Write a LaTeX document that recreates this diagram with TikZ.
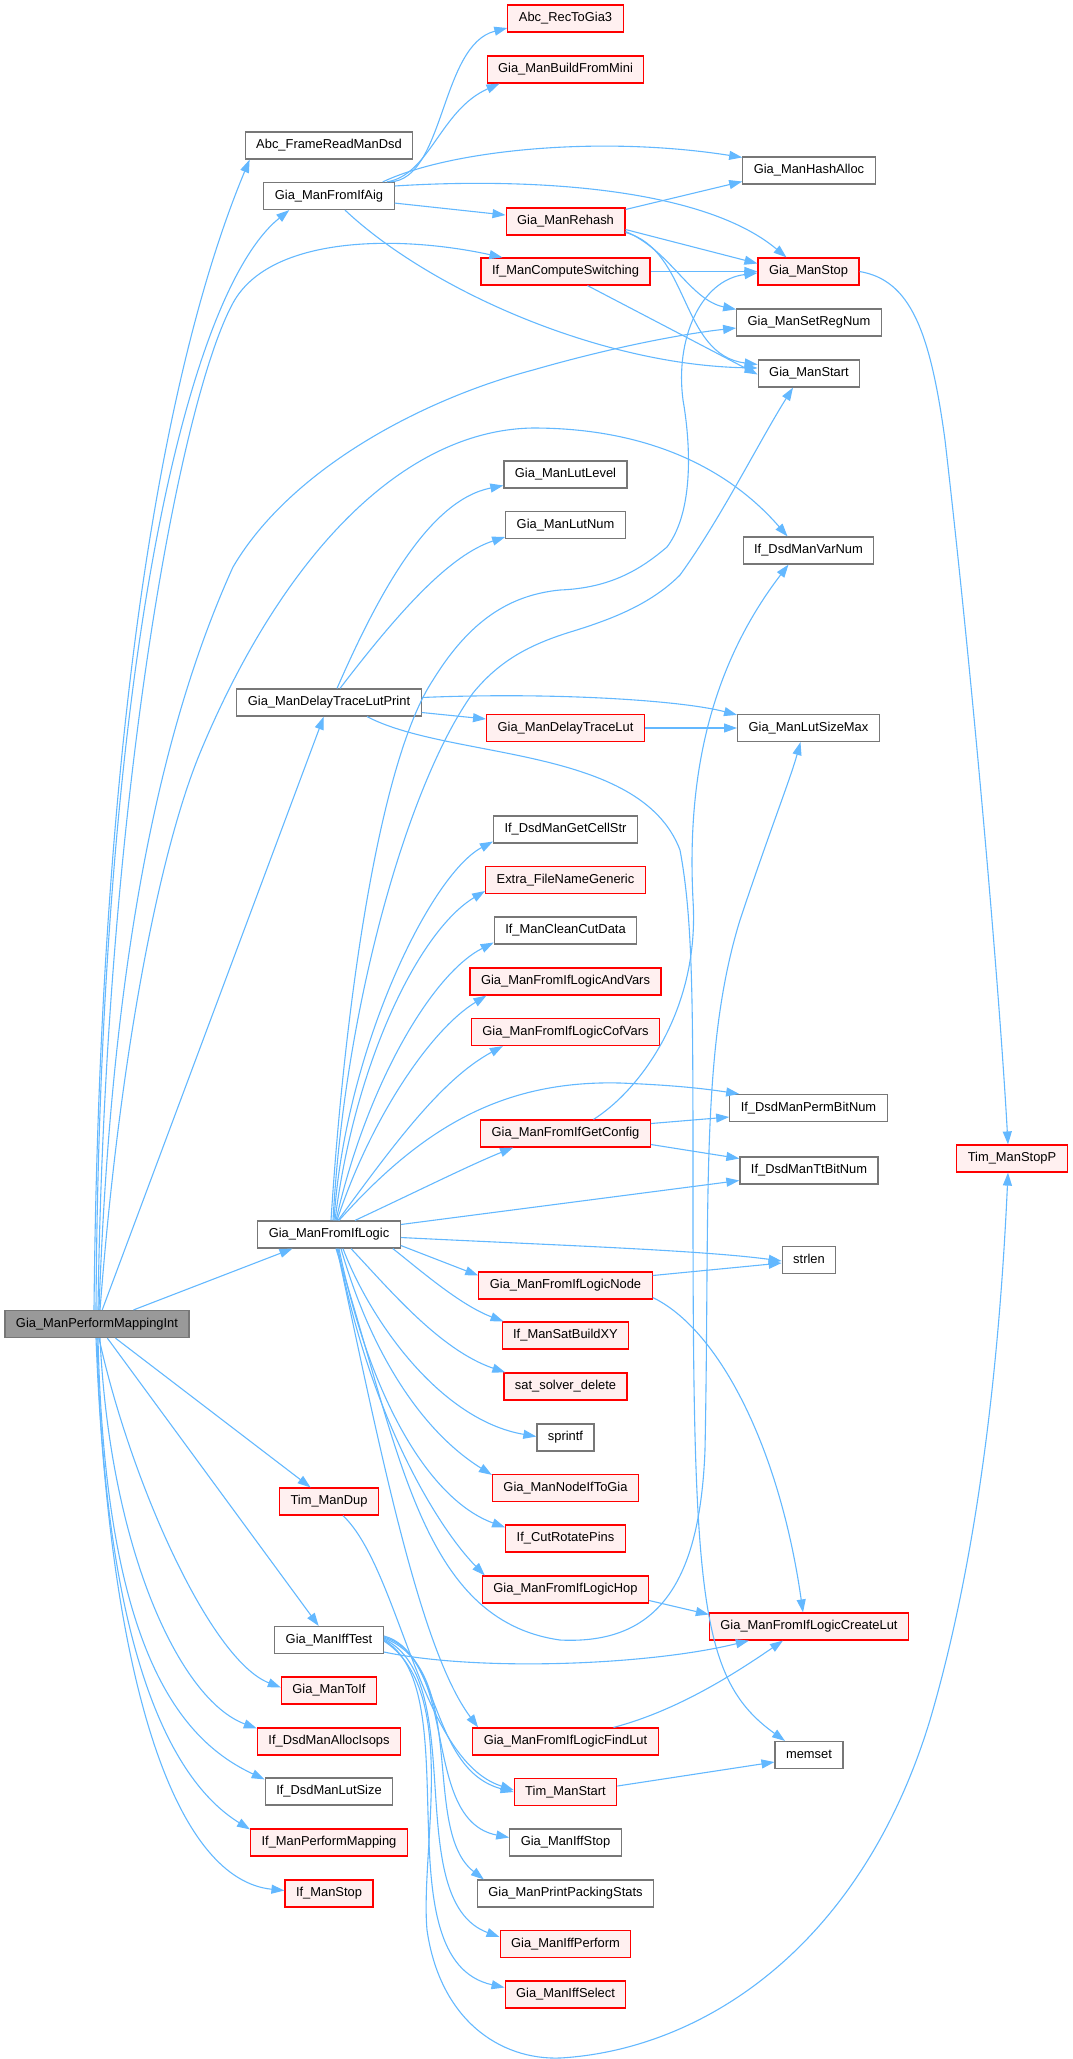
\documentclass[tikz,border=0pt]{standalone}
\usepackage{fontspec}
\setmainfont{Liberation Sans}
\usepackage{tikz}
\usetikzlibrary{arrows.meta}

\definecolor{edgeblue}{HTML}{63B8FF}
\definecolor{boxgrey}{HTML}{777777}
\definecolor{rootgrey}{HTML}{999999}
\definecolor{redfill}{HTML}{FFF0F0}

\begin{document}
\begin{tikzpicture}[x=1pt, y=-1pt,
    fn/.style={rectangle, draw=boxgrey, fill=white, line width=1.2pt, inner xsep=11pt, inner ysep=0pt, minimum height=27pt, text height=9.5pt, text depth=2.8pt, font=\fontsize{12.9}{15}\selectfont},
    fnred/.style={fn, draw=red, fill=redfill},
    fnroot/.style={fn, fill=rootgrey},
    call/.style={draw=edgeblue, line width=1.1pt, -{Triangle[length=13pt, width=9pt]}}]
    \useasboundingbox (0,0) rectangle (1073,2059);

    \node [fnroot] (performint) at (97,1324) {Gia\_ManPerformMappingInt};

    \node [fn] (framedsd) at (329,145.5) {Abc\_FrameReadManDsd};
    \node [fn] (fromifaig) at (329,196) {Gia\_ManFromIfAig};
    \node [fn] (delayprint) at (329,702.5) {Gia\_ManDelayTraceLutPrint};
    \node [fn] (fromiflogic) at (329,1234.5) {Gia\_ManFromIfLogic};
    \node [fnred] (timdup) at (329,1501.5) {Tim\_ManDup};
    \node [fn] (ifftest) at (329,1640) {Gia\_ManIffTest};
    \node [fnred] (toif) at (329,1690.5) {Gia\_ManToIf};
    \node [fnred] (allocisops) at (329,1741.5) {If\_DsdManAllocIsops};
    \node [fn] (lutsize) at (329,1791.5) {If\_DsdManLutSize};
    \node [fnred] (performmap) at (329,1842.5) {If\_ManPerformMapping};
    \node [fnred] (ifstop) at (329,1893.5) {If\_ManStop};

    \node [fnred] (rectogia) at (565.5,18.5) {Abc\_RecToGia3};
    \node [fnred] (buildmini) at (565.5,69.5) {Gia\_ManBuildFromMini};
    \node [fnred] (rehash) at (565.5,221.5) {Gia\_ManRehash};
    \node [fnred] (switching) at (565.5,271.5) {If\_ManComputeSwitching};
    \node [fn] (lutlevel) at (565.5,474.5) {Gia\_ManLutLevel};
    \node [fn] (lutnum) at (565.5,525) {Gia\_ManLutNum};
    \node [fnred] (delaylut) at (565.5,728) {Gia\_ManDelayTraceLut};
    \node [fn] (cellstr) at (565.5,829.5) {If\_DsdManGetCellStr};
    \node [fnred] (filename) at (565.5,880) {Extra\_FileNameGeneric};
    \node [fn] (cleancut) at (565.5,930.5) {If\_ManCleanCutData};
    \node [fnred] (andvars) at (565.5,981.5) {Gia\_ManFromIfLogicAndVars};
    \node [fnred] (cofvars) at (565.5,1032) {Gia\_ManFromIfLogicCofVars};
    \node [fnred] (getconfig) at (565.5,1133.5) {Gia\_ManFromIfGetConfig};
    \node [fnred] (lognode) at (565.5,1285.5) {Gia\_ManFromIfLogicNode};
    \node [fnred] (satxy) at (565.5,1335.5) {If\_ManSatBuildXY};
    \node [fnred] (satdel) at (565.5,1386.5) {sat\_solver\_delete};
    \node [fn] (printfn) at (565.5,1437.5) {sprintf};
    \node [fnred] (nodetogia) at (565.5,1488) {Gia\_ManNodeIfToGia};
    \node [fnred] (rotpins) at (565.5,1538.5) {If\_CutRotatePins};
    \node [fnred] (loghop) at (565.5,1589.5) {Gia\_ManFromIfLogicHop};
    \node [fnred] (findlut) at (565.5,1741.5) {Gia\_ManFromIfLogicFindLut};
    \node [fnred] (timstart) at (565.5,1792) {Tim\_ManStart};
    \node [fn] (iffstop) at (565.5,1842.5) {Gia\_ManIffStop};
    \node [fn] (packstats) at (565.5,1893.5) {Gia\_ManPrintPackingStats};
    \node [fnred] (iffperform) at (565.5,1944) {Gia\_ManIffPerform};
    \node [fnred] (iffselect) at (565.5,1994.5) {Gia\_ManIffSelect};

    \node [fn] (hashalloc) at (809,170.5) {Gia\_ManHashAlloc};
    \node [fnred] (manstop) at (808.5,271.5) {Gia\_ManStop};
    \node [fn] (setregnum) at (809,322.5) {Gia\_ManSetRegNum};
    \node [fn] (manstart) at (809,373.5) {Gia\_ManStart};
    \node [fn] (varnum) at (808.5,550.5) {If\_DsdManVarNum};
    \node [fn] (lutsizemax) at (808.5,728) {Gia\_ManLutSizeMax};
    \node [fn] (permbit) at (808.5,1108) {If\_DsdManPermBitNum};
    \node [fn] (ttbit) at (809,1170.5) {If\_DsdManTtBitNum};
    \node [fn] (strlenfn) at (809,1260) {strlen};
    \node [fnred] (createlut) at (809,1626.5) {Gia\_ManFromIfLogicCreateLut};
    \node [fn] (memsetfn) at (809,1755) {memset};

    \node [fnred] (stopp) at (1012,1158.5) {Tim\_ManStopP};

    \draw [call] ([xshift=-3pt]performint.north) .. controls (100,700) and (170,350) .. ([xshift=5pt]framedsd.south west);
    \draw [call] ([xshift=-1pt]performint.north) .. controls (100,650) and (190,290) .. ([xshift=26pt]fromifaig.south west);
    \draw [call] ([xshift=1pt]performint.north) .. controls (105,800) and (180,400) .. (233,303) .. controls (270,235) and (400,235) .. ([xshift=22pt]switching.north west);
    \draw [call] ([xshift=2pt]performint.north) .. controls (110,1000) and (150,750) .. (233,567) .. controls (290,470) and (420,400) .. (533,370) .. controls (620,345) and (690,333) .. ([yshift=-5.5pt]setregnum.west);
    \draw [call] ([xshift=3pt]performint.north) .. controls (120,1050) and (160,850) .. (200,753) .. controls (280,560) and (400,430) .. (533,428) .. controls (650,428) and (730,470) .. ([xshift=45pt]varnum.north west);
    \draw [call] (performint) -- (delayprint);
    \draw [call] (performint) -- (fromiflogic);
    \draw [call] (performint) -- (timdup);
    \draw [call] (performint) -- (ifftest);
    \draw [call] ([xshift=2pt]performint.south) .. controls (130,1480) and (210,1660) .. ([yshift=3pt]toif.west);
    \draw [call] ([xshift=3pt]performint.south) .. controls (110,1550) and (180,1700) .. ([yshift=-1pt]allocisops.north west);
    \draw [call] ([xshift=1pt]performint.south) .. controls (105,1650) and (180,1740) .. ([yshift=-2pt]lutsize.north west);
    \draw [call] (performint.south) .. controls (105,1650) and (170,1780) .. ([yshift=-1pt]performmap.north west);
    \draw [call] ([xshift=-1pt]performint.south) .. controls (110,1700) and (180,1880) .. ([yshift=3pt]ifstop.west);

    \draw [call] ([xshift=-5pt]fromifaig.north east) .. controls (445,180) and (440,45) .. ([yshift=-9.5pt]rectogia.west);
    \draw [call] ([xshift=-8pt]fromifaig.north east) .. controls (430,175) and (440,110) .. ([xshift=13pt]buildmini.south west);
    \draw [call] ([xshift=-12pt]fromifaig.north east) .. controls (450,150) and (600,135) .. ([yshift=-1pt]hashalloc.north west);
    \draw [call] ([yshift=10pt]fromifaig.east) .. controls (520,178) and (700,185) .. ([xshift=-22pt]manstop.north);
    \draw [call] (fromifaig) -- (rehash);
    \draw [call] ([xshift=16pt]fromifaig.south) .. controls (430,290) and (600,365) .. ([yshift=5.5pt]manstart.west);

    \draw [call] ([yshift=12pt]rehash.east) -- ([yshift=-11pt]hashalloc.west);
    \draw [call] ([yshift=-8pt]rehash.east) -- ([yshift=8pt]manstop.west);
    \draw [call] ([yshift=-10pt]rehash.east) .. controls (670,250) and (690,300) .. ([yshift=-1pt]setregnum.north west);
    \draw [call] ([yshift=-11pt]rehash.east) .. controls (690,250) and (680,355) .. ([yshift=9pt]manstart.west);

    \draw [call] (switching) -- (manstop);
    \draw [call] ([xshift=22pt]switching.south) -- ([yshift=-1pt]manstart.west);

    \draw [call] (manstop.east) .. controls (910,280) and (930,330) .. (945,440) .. controls (975,700) and (1000,1000) .. ([xshift=-4pt]stopp.north);

    \draw [call] ([xshift=8pt]delayprint.north) .. controls (380,590) and (430,500) .. ([yshift=-11pt]lutlevel.west);
    \draw [call] ([xshift=11pt]delayprint.north) .. controls (400,610) and (450,555) .. ([yshift=-12pt]lutnum.west);
    \draw [call] ([yshift=5pt]delayprint.east) .. controls (550,692) and (680,700) .. ([yshift=-1pt]lutsizemax.north west);
    \draw [call] ([yshift=-10pt]delayprint.east) -- ([yshift=9pt]delaylut.west);
    \draw [call] ([xshift=38pt]delayprint.south) .. controls (450,760) and (640,745) .. (680,850) .. controls (693,920) and (693,1000) .. (693,1200) .. controls (693,1600) and (700,1680) .. ([xshift=-24pt]memsetfn.north);
    \draw [call] (delaylut) -- (lutsizemax);

    \draw [call] ([xshift=2pt]fromiflogic.north) .. controls (345,1000) and (380,760) .. (433,680) .. controls (470,620) and (510,595) .. (560,590) .. controls (610,588) and (640,570) .. (667,547) .. controls (695,510) and (690,440) .. (683,400) .. controls (675,340) and (700,280) .. ([yshift=-1.5pt]manstop.west);
    \draw [call] ([xshift=4pt]fromiflogic.north) .. controls (345,1000) and (410,780) .. (473,693) .. controls (500,660) and (530,645) .. (567,633) .. controls (610,620) and (650,605) .. (680,575) .. controls (720,520) and (760,440) .. ([xshift=-16pt]manstart.south);
    \draw [call] ([xshift=5pt]fromiflogic.north) .. controls (345,1050) and (430,875) .. ([yshift=-12pt]cellstr.west);
    \draw [call] ([xshift=6pt]fromiflogic.north) .. controls (355,1060) and (420,930) .. ([yshift=-11pt]filename.west);
    \draw [call] ([xshift=7pt]fromiflogic.north) .. controls (365,1090) and (430,975) .. ([yshift=-12pt]cleancut.west);
    \draw [call] ([xshift=8pt]fromiflogic.north) .. controls (370,1120) and (430,1030) .. ([xshift=17pt]andvars.south west);
    \draw [call] ([xshift=9pt]fromiflogic.north) .. controls (390,1150) and (440,1080) .. ([xshift=32pt]cofvars.south west);
    \draw [call] ([xshift=10pt]fromiflogic.north) .. controls (420,1130) and (500,1080) .. (620,1083) .. controls (670,1085) and (700,1088) .. ([xshift=10pt]permbit.north west);
    \draw [call] ([xshift=26pt]fromiflogic.north) .. controls (420,1190) and (470,1165) .. ([xshift=33pt]getconfig.south west);
    \draw [call] ([yshift=10pt]fromiflogic.east) -- ([yshift=-10pt]ttbit.west);
    \draw [call] ([yshift=-3pt]fromiflogic.east) .. controls (550,1245) and (700,1250) .. ([yshift=-1pt]strlenfn.west);
    \draw [call] ([yshift=-11pt]fromiflogic.east) -- ([yshift=10pt]lognode.west);
    \draw [call] ([xshift=-8pt]fromiflogic.south east) .. controls (420,1270) and (460,1305) .. ([xshift=2pt]satxy.north west);
    \draw [call] ([xshift=22pt]fromiflogic.south) .. controls (390,1290) and (440,1350) .. ([xshift=2pt]satdel.north west);
    \draw [call] ([xshift=14pt]fromiflogic.south) .. controls (370,1320) and (440,1420) .. ([yshift=1pt]printfn.west);
    \draw [call] ([xshift=12pt]fromiflogic.south) .. controls (370,1350) and (420,1430) .. ([yshift=-1pt]nodetogia.north west);
    \draw [call] ([xshift=10pt]fromiflogic.south) .. controls (370,1400) and (430,1500) .. ([yshift=-3pt]rotpins.north west);
    \draw [call] ([xshift=9pt]fromiflogic.south) .. controls (370,1420) and (440,1530) .. ([xshift=3pt]loghop.north west);
    \draw [call] ([xshift=8pt]fromiflogic.south) .. controls (380,1450) and (420,1650) .. ([xshift=6pt]findlut.north west);
    \draw [call] ([xshift=7pt]fromiflogic.south) .. controls (400,1450) and (420,1620) .. (560,1640) .. controls (660,1645) and (700,1580) .. (705,1450) .. controls (710,1200) and (700,1050) .. (740,920) .. controls (770,830) and (790,780) .. ([xshift=-8pt]lutsizemax.south);

    \draw [call] ([xshift=14pt]timdup.south) .. controls (400,1570) and (420,1760) .. ([yshift=2pt]timstart.west);

    \draw [call] ([yshift=4pt]ifftest.east) .. controls (440,1650) and (430,1770) .. (timstart.west);
    \draw [call] ([yshift=3pt]ifftest.east) .. controls (460,1660) and (420,1820) .. ([yshift=5pt]iffstop.west);
    \draw [call] ([yshift=2pt]ifftest.east) .. controls (470,1670) and (420,1830) .. ([xshift=7pt]packstats.north west);
    \draw [call] ([yshift=1pt]ifftest.east) .. controls (470,1680) and (400,1900) .. ([yshift=7pt]iffperform.west);
    \draw [call] (ifftest.east) .. controls (470,1690) and (380,1960) .. ([yshift=7pt]iffselect.west);
    \draw [call] ([yshift=-1pt]ifftest.east) .. controls (460,1690) and (420,1850) .. (427,1930) .. controls (440,2020) and (500,2060) .. (560,2058) .. controls (700,2050) and (860,1950) .. (930,1720) .. controls (980,1550) and (1000,1350) .. ([xshift=-4pt]stopp.south);
    \draw [call] ([yshift=-12pt]ifftest.east) .. controls (480,1672) and (650,1665) .. ([xshift=40pt]createlut.south west);

    \draw [call] ([xshift=28pt]getconfig.north) .. controls (640,1090) and (700,1010) .. (693,900) .. controls (688,800) and (700,680) .. ([xshift=-20pt]varnum.south);
    \draw [call] ([yshift=10pt]getconfig.east) -- ([yshift=-9pt]permbit.west);
    \draw [call] ([yshift=-11pt]getconfig.east) -- ([yshift=12pt]ttbit.west);

    \draw [call] ([yshift=10pt]lognode.east) -- ([yshift=-3pt]strlenfn.west);
    \draw [call] ([yshift=-12pt]lognode.east) .. controls (720,1330) and (780,1450) .. ([xshift=-6pt]createlut.north);
    \draw [call] ([yshift=-11pt]loghop.east) -- ([yshift=12pt]createlut.west);
    \draw [call] ([xshift=48pt]findlut.north) .. controls (680,1710) and (740,1670) .. ([xshift=-26pt]createlut.south);
    \draw [call] ([yshift=6pt]timstart.east) -- ([yshift=-7pt]memsetfn.west);
\end{tikzpicture}
\end{document}
